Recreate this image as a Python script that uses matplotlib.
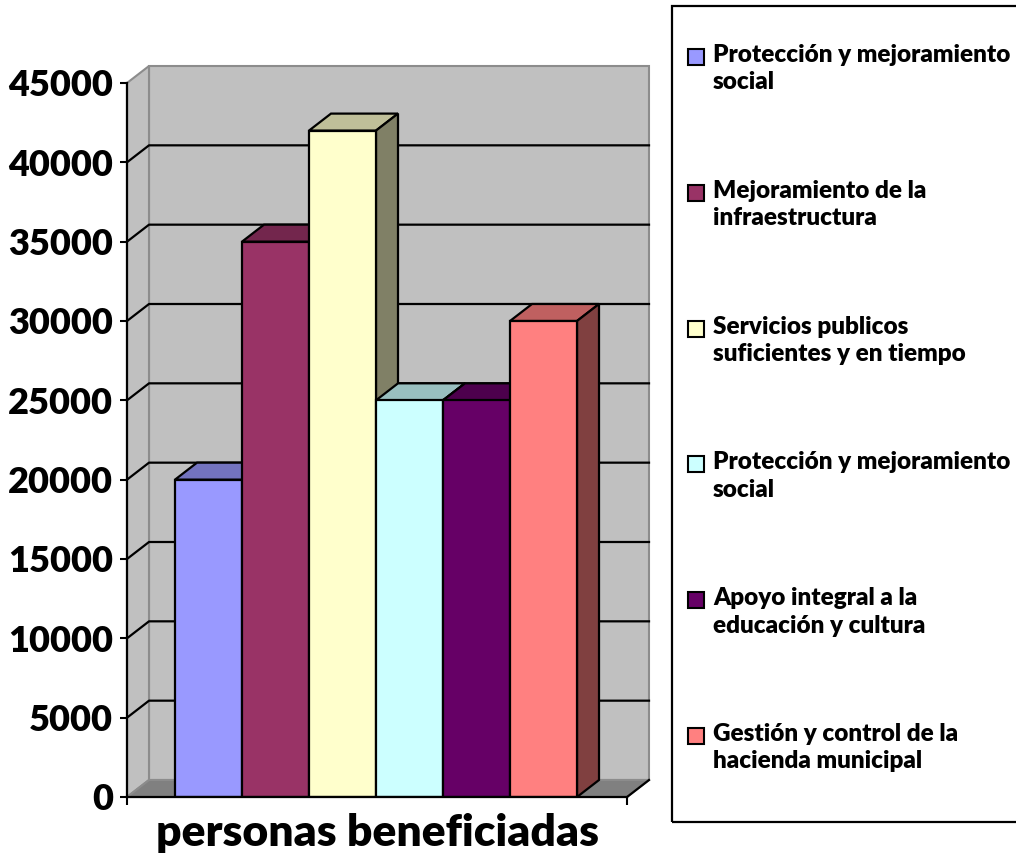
import matplotlib.pyplot as plt
from matplotlib.patches import Polygon, Rectangle
from matplotlib.colors import to_rgb

plt.rcParams['font.family'] = ['Lato', 'DejaVu Sans']
plt.rcParams['font.weight'] = 'heavy'
plt.rcParams['axes.labelweight'] = 'heavy'

programas = [
    "Protección y mejoramiento\nsocial",
    "Mejoramiento de la\ninfraestructura",
    "Servicios publicos\nsuficientes y en tiempo",
    "Protección y mejoramiento\nsocial",
    "Apoyo integral a la\neducación y cultura",
    "Gestión y control de la\nhacienda municipal",
]
beneficiados = [20000, 35000, 42000, 25000, 25000, 30000]
colores = ["#9999ff", "#993366", "#ffffcc", "#ccffff", "#660066", "#ff8080"]
y_ticks = list(range(0, 45001, 5000))


def shade(c, f):
    r, g, b = to_rgb(c)
    return (r * f, g * f, b * f)


W, H = 1016, 859
fig = plt.figure(figsize=(W / 100, H / 100), dpi=100)
ax = fig.add_axes([127 / W, (H - 797) / H, 500 / W, 714 / H])
xmin, xmax = -1.216, 6.246
ymax = 45000
ax.set_xlim(xmin, xmax)
ax.set_ylim(0, ymax)
ax.patch.set_visible(False)

# depth of the fake 3D box, in data units
dx = 22 / 67
dy = 17 * ymax / 714

wall = "#c0c0c0"
edge = "#8c8c8c"
ax.add_patch(Polygon([(xmin + dx, dy), (xmax + dx, dy), (xmax + dx, ymax + dy), (xmin + dx, ymax + dy)],
                     fc=wall, ec=edge, lw=1.5, clip_on=False, zorder=0.5))
ax.add_patch(Polygon([(xmin, 0), (xmin, ymax), (xmin + dx, ymax + dy), (xmin + dx, dy)],
                     fc=wall, ec=edge, lw=1.5, clip_on=False, zorder=0.5))
ax.add_patch(Polygon([(xmin, 0), (xmax, 0), (xmax + dx, dy), (xmin + dx, dy)],
                     fc="#808080", ec=edge, lw=1.5, clip_on=False, zorder=0.6))

for v in y_ticks[1:-1]:
    ax.plot([xmin, xmin + dx, xmax + dx], [v, v + dy, v + dy], color="black", lw=1.6,
            clip_on=False, zorder=0.8)
ax.plot([xmax, xmax + dx], [0, dy], color="black", lw=1.6, clip_on=False, zorder=1)

x = list(range(len(beneficiados)))
bars = ax.bar(x, beneficiados, width=1, color=colores, edgecolor="black", lw=1.6)
for i, (b, v, c) in enumerate(zip(bars, beneficiados, colores)):
    b.set_zorder(3 + 2 * i)
    l, r = i - 0.5, i + 0.5
    ax.add_patch(Polygon([(l, v), (r, v), (r + dx, v + dy), (l + dx, v + dy)],
                         fc=shade(c, 0.75), ec="black", lw=1.6, clip_on=False, zorder=2 + 2 * i))
    ax.add_patch(Polygon([(r, 0), (r, v), (r + dx, v + dy), (r + dx, dy)],
                         fc=shade(c, 0.5), ec="black", lw=1.6, clip_on=False, zorder=2 + 2 * i))

for s in ["top", "right"]:
    ax.spines[s].set_visible(False)
for s in ["left", "bottom"]:
    ax.spines[s].set_color("black")
    ax.spines[s].set_linewidth(1.6)
    ax.spines[s].set_zorder(20)

ax.set_yticks(y_ticks)
ax.tick_params(axis="y", length=5, width=1.5, pad=5, labelsize=26, colors="black")
ax.set_xticks([xmin, xmax])
ax.set_xticklabels([])
ax.tick_params(axis="x", length=6, width=1.5)
ax.set_xlabel("personas beneficiadas", fontsize=32, labelpad=2)

# legend box (its right side runs off the figure, as in the original)
fig.patches.append(Rectangle((672 / W, (H - 822) / H), 400 / W, 816 / H, transform=fig.transFigure,
                             fill=False, ec="black", lw=1.6))
for i, (lab, c) in enumerate(zip(programas, colores)):
    yc = 57 + 135.8 * i
    fig.patches.append(Rectangle((688 / W, (H - yc - 8) / H), 16 / W, 16 / H,
                                 transform=fig.transFigure, fc=c, ec="black", lw=1.5))
    fig.text(713 / W, (H - yc + 13) / H, lab, fontsize=17.5,
             va="top", ha="left", linespacing=1.3)

fig.savefig("out.png", dpi=100)
